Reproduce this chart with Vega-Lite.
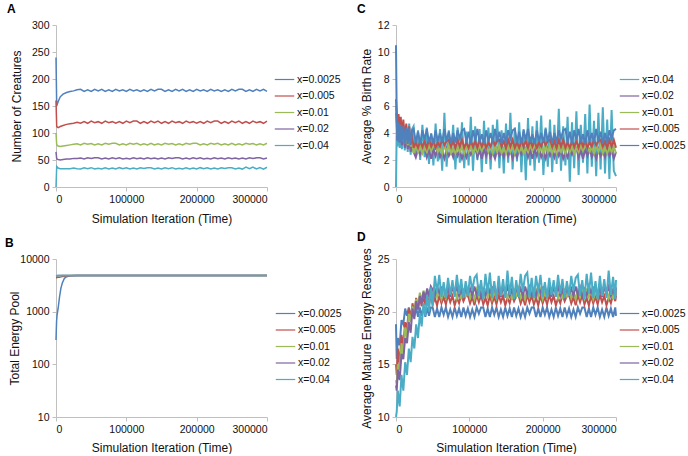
{
"$schema":"https://vega.github.io/schema/vega-lite/v6.json",
"autosize":{"type":"pad"},
"padding":{"left":5,"top":3,"right":0,"bottom":0},
"background":"white",
"config":{
 "font":"Liberation Sans",
 "view":{"stroke":null},
 "axis":{"domainColor":"#c0c0c0","tickColor":"#c0c0c0","grid":false,"labelFontSize":10.5,"labelColor":"#111","titleFontSize":12,"titleFontWeight":"normal","titleColor":"#111","tickSize":4,"labelPadding":3},
 "legend":{"orient":"none","symbolType":"stroke","symbolStrokeWidth":1.5,"symbolSize":380,"labelFontSize":10.5,"labelColor":"#111","labelOffset":2,"rowPadding":0.5},
 "title":{"anchor":"start","frame":"bounds","fontSize":12,"fontWeight":"bold","offset":4,"color":"#000","dx":-3},
 "line":{"strokeWidth":1.2}
},
"datasets":{
"A":[
{"t":0,"a":240,"b":160,"c":100,"d":65,"e":0},
{"t":1000,"a":150,"b":112,"c":78,"d":52,"e":38},
{"t":3000,"a":158,"b":110,"c":76,"d":51,"e":35},
{"t":6000,"a":167,"b":112,"c":75,"d":50,"e":34},
{"t":10000,"a":172,"b":114,"c":76,"d":51,"e":34},
{"t":15000,"a":175,"b":116,"c":77,"d":52,"e":34},
{"t":20000,"a":177,"b":117,"c":78,"d":52,"e":34},
{"t":25000,"a":178,"b":118,"c":79,"d":53,"e":35},
{"t":30000,"a":180,"b":120,"c":80,"d":53,"e":34},
{"t":35000,"a":181,"b":118,"c":78,"d":53.5,"e":33.2},
{"t":40000,"a":177,"b":121,"c":81,"d":52,"e":35.7},
{"t":45000,"a":180,"b":118,"c":79,"d":54,"e":33.9},
{"t":50000,"a":177,"b":122,"c":80.5,"d":52.6,"e":35.8},
{"t":55000,"a":181,"b":119,"c":78,"d":54,"e":33.3},
{"t":60000,"a":178,"b":121,"c":80,"d":54.2,"e":34.9},
{"t":65000,"a":181,"b":118,"c":78,"d":52,"e":33.2},
{"t":70000,"a":177,"b":122,"c":81,"d":53.7,"e":35.5},
{"t":75000,"a":180,"b":119,"c":79,"d":51.8,"e":33.6},
{"t":80000,"a":177,"b":121,"c":81,"d":54.1,"e":35.2},
{"t":85000,"a":181,"b":118,"c":81,"d":52.4,"e":33.3},
{"t":90000,"a":178,"b":121,"c":78,"d":54.2,"e":35.8},
{"t":95000,"a":180,"b":118,"c":80,"d":51.9,"e":33.7},
{"t":100000,"a":177,"b":122,"c":78,"d":53.4,"e":35.4},
{"t":105000,"a":181,"b":119,"c":81,"d":51.8,"e":33.2},
{"t":110000,"a":178,"b":122,"c":79,"d":54,"e":35},
{"t":115000,"a":180,"b":122,"c":81,"d":52.2,"e":33.5},
{"t":120000,"a":177,"b":118,"c":78,"d":53.6,"e":35.7},
{"t":125000,"a":180,"b":121,"c":80,"d":51.9,"e":34.1},
{"t":130000,"a":177,"b":118,"c":78,"d":54.2,"e":35.5},
{"t":135000,"a":181,"b":122,"c":81,"d":52.3,"e":35.8},
{"t":140000,"a":178,"b":119,"c":78,"d":53.8,"e":33.5},
{"t":145000,"a":181,"b":122,"c":80,"d":51.8,"e":35.3},
{"t":150000,"a":181,"b":118,"c":78,"d":53.5,"e":33.2},
{"t":155000,"a":177,"b":121,"c":81,"d":52,"e":35.7},
{"t":160000,"a":180,"b":118,"c":79,"d":54,"e":33.9},
{"t":165000,"a":177,"b":122,"c":80.5,"d":52.6,"e":35.8},
{"t":170000,"a":181,"b":119,"c":78,"d":54,"e":33.3},
{"t":175000,"a":178,"b":121,"c":80,"d":54.2,"e":34.9},
{"t":180000,"a":181,"b":118,"c":78,"d":52,"e":33.2},
{"t":185000,"a":177,"b":122,"c":81,"d":53.7,"e":35.5},
{"t":190000,"a":180,"b":119,"c":79,"d":51.8,"e":33.6},
{"t":195000,"a":177,"b":121,"c":81,"d":54.1,"e":35.2},
{"t":200000,"a":181,"b":118,"c":81,"d":52.4,"e":33.3},
{"t":205000,"a":178,"b":121,"c":78,"d":54.2,"e":35.8},
{"t":210000,"a":180,"b":118,"c":80,"d":51.9,"e":33.7},
{"t":215000,"a":177,"b":122,"c":78,"d":53.4,"e":35.4},
{"t":220000,"a":181,"b":119,"c":81,"d":51.8,"e":33.2},
{"t":225000,"a":178,"b":122,"c":79,"d":54,"e":35},
{"t":230000,"a":180,"b":122,"c":81,"d":52.2,"e":33.5},
{"t":235000,"a":177,"b":118,"c":78,"d":53.6,"e":35.7},
{"t":240000,"a":180,"b":121,"c":80,"d":51.9,"e":34.1},
{"t":245000,"a":177,"b":118,"c":78,"d":54.2,"e":35.5},
{"t":250000,"a":181,"b":122,"c":81,"d":52.3,"e":35.8},
{"t":255000,"a":178,"b":119,"c":78,"d":53.8,"e":33.5},
{"t":260000,"a":181,"b":122,"c":80,"d":51.8,"e":35.3},
{"t":265000,"a":181,"b":118,"c":78,"d":53.5,"e":33.2},
{"t":270000,"a":177,"b":121,"c":81,"d":52,"e":36.7},
{"t":275000,"a":180,"b":118,"c":79,"d":54,"e":33.9},
{"t":280000,"a":177,"b":122,"c":80.5,"d":52.6,"e":36.8},
{"t":285000,"a":181,"b":119,"c":78,"d":54,"e":33.3},
{"t":290000,"a":178,"b":121,"c":80,"d":54.2,"e":35.9},
{"t":295000,"a":181,"b":118,"c":78,"d":52,"e":33.2},
{"t":300000,"a":177,"b":122,"c":81,"d":53.7,"e":36.5}
],
"B":[
{"t":0,"a":290,"b":4400,"c":4700,"d":4800,"e":4850},
{"t":800,"a":650,"b":4420,"c":4750,"d":4820,"e":4850},
{"t":1500,"a":860,"b":4450,"c":4780,"d":4830,"e":4850},
{"t":3000,"a":1150,"b":4480,"c":4800,"d":4840,"e":4850},
{"t":5000,"a":1900,"b":4520,"c":4820,"d":4850,"e":4850},
{"t":7000,"a":2800,"b":4580,"c":4830,"d":4850,"e":4850},
{"t":9000,"a":3500,"b":4650,"c":4840,"d":4850,"e":4850},
{"t":12000,"a":4300,"b":4720,"c":4850,"d":4850,"e":4850},
{"t":15000,"a":4600,"b":4780,"c":4850,"d":4850,"e":4850},
{"t":20000,"a":4800,"b":4820,"c":4850,"d":4850,"e":4850},
{"t":30000,"a":4850,"b":4850,"c":4850,"d":4850,"e":4850},
{"t":100000,"a":4850,"b":4850,"c":4850,"d":4850,"e":4850},
{"t":200000,"a":4850,"b":4850,"c":4850,"d":4850,"e":4850},
{"t":300000,"a":4850,"b":4850,"c":4850,"d":4850,"e":4850}
],
"C":[
{"t":0,"a":10.5,"b":6.5,"c":6,"d":5.5,"e":0},
{"t":1000,"a":5.0,"b":5.5,"c":4.8,"d":4.5,"e":4.6},
{"t":2000,"a":3.4,"b":4.0,"c":3.8,"d":3.5,"e":3.0},
{"t":3500,"a":4.8,"b":5.4,"c":4.6,"d":4.3,"e":4.8},
{"t":5000,"a":3.3,"b":3.9,"c":3.6,"d":3.3,"e":2.9},
{"t":6500,"a":4.6,"b":5.2,"c":4.5,"d":4.1,"e":4.6},
{"t":8000,"a":3.3,"b":3.7,"c":3.4,"d":3.1,"e":2.8},
{"t":10000,"a":4.5,"b":5.0,"c":4.3,"d":3.9,"e":4.6},
{"t":12000,"a":3.2,"b":3.5,"c":3.2,"d":2.9,"e":2.7},
{"t":14000,"a":4.4,"b":4.7,"c":4.2,"d":3.7,"e":4.5},
{"t":16000,"a":3.2,"b":3.4,"c":3.1,"d":2.8,"e":2.6},
{"t":18000,"a":4.4,"b":4.5,"c":4.0,"d":3.5,"e":4.7},
{"t":20000,"a":3.1,"b":3.2,"c":3.0,"d":2.6,"e":2.4},
{"t":22000,"a":4.2,"b":3.9,"c":3.4,"d":3.1,"e":4.3},
{"t":24000,"a":4.3,"b":2.9,"c":2.5,"d":2.6,"e":4.5},
{"t":27000,"a":3.3,"b":3.3,"c":3.1,"d":2.2,"e":2.3},
{"t":30000,"a":4.1,"b":2.9,"c":2.6,"d":2.8,"e":4.2},
{"t":33000,"a":3.2,"b":3.4,"c":3.0,"d":2.4,"e":2.0},
{"t":36000,"a":4.2,"b":3.0,"c":2.5,"d":2.8,"e":4.6},
{"t":39000,"a":3.5,"b":3.4,"c":2.9,"d":2.9,"e":2.2},
{"t":42000,"a":4.3,"b":2.9,"c":2.6,"d":2.2,"e":4.4},
{"t":45000,"a":3.3,"b":3.5,"c":3.1,"d":2.7,"e":1.7},
{"t":48000,"a":3.9,"b":3.0,"c":2.7,"d":2.1,"e":4.0},
{"t":51000,"a":3.2,"b":3.4,"c":3.0,"d":2.8,"e":1.6},
{"t":54000,"a":4.2,"b":2.9,"c":3.1,"d":2.3,"e":4.7},
{"t":57000,"a":3.4,"b":3.3,"c":2.6,"d":2.9,"e":1.9},
{"t":60000,"a":4.0,"b":3.0,"c":3.0,"d":2.2,"e":4.3},
{"t":63000,"a":3.3,"b":3.5,"c":2.5,"d":2.6,"e":1.2},
{"t":66000,"a":4.3,"b":3.1,"c":3.1,"d":2.1,"e":5.5},
{"t":69000,"a":3.4,"b":3.4,"c":2.6,"d":2.8,"e":1.5},
{"t":72000,"a":4.1,"b":3.5,"c":3.1,"d":2.3,"e":4.2},
{"t":75000,"a":3.2,"b":3.0,"c":2.5,"d":2.7,"e":2.4},
{"t":78000,"a":4.0,"b":3.4,"c":2.9,"d":2.2,"e":4.6},
{"t":81000,"a":3.3,"b":2.9,"c":2.5,"d":2.9,"e":1.3},
{"t":84000,"a":4.2,"b":3.5,"c":3.0,"d":2.3,"e":4.4},
{"t":87000,"a":3.6,"b":3.0,"c":2.6,"d":2.7,"e":1.8},
{"t":90000,"a":4.2,"b":3.5,"c":3.0,"d":2.1,"e":4.8},
{"t":93000,"a":4.3,"b":2.9,"c":2.5,"d":2.6,"e":1.4},
{"t":96000,"a":3.3,"b":3.3,"c":3.1,"d":2.2,"e":4.1},
{"t":99000,"a":4.1,"b":2.9,"c":2.6,"d":2.8,"e":1.6},
{"t":102000,"a":3.2,"b":3.4,"c":3.0,"d":2.4,"e":5.2},
{"t":105000,"a":4.2,"b":3.0,"c":2.5,"d":2.8,"e":1.2},
{"t":108000,"a":3.5,"b":3.4,"c":2.9,"d":2.9,"e":4.5},
{"t":111000,"a":4.3,"b":2.9,"c":2.6,"d":2.2,"e":2.0},
{"t":114000,"a":3.3,"b":3.5,"c":3.1,"d":2.7,"e":4.3},
{"t":117000,"a":3.9,"b":3.0,"c":2.7,"d":2.1,"e":1.1},
{"t":120000,"a":3.2,"b":3.4,"c":3.0,"d":2.8,"e":4.9},
{"t":123000,"a":4.2,"b":2.9,"c":3.1,"d":2.3,"e":1.7},
{"t":126000,"a":3.4,"b":3.3,"c":2.6,"d":2.9,"e":4.4},
{"t":129000,"a":4.0,"b":3.0,"c":3.0,"d":2.2,"e":1.3},
{"t":132000,"a":3.3,"b":3.5,"c":2.5,"d":2.6,"e":4.6},
{"t":135000,"a":4.3,"b":3.1,"c":3.1,"d":2.1,"e":2.1},
{"t":138000,"a":3.4,"b":3.4,"c":2.6,"d":2.8,"e":5.0},
{"t":141000,"a":4.1,"b":3.5,"c":3.1,"d":2.3,"e":1.4},
{"t":144000,"a":3.2,"b":3.0,"c":2.5,"d":2.7,"e":4.2},
{"t":147000,"a":4.0,"b":3.4,"c":2.9,"d":2.2,"e":1.0},
{"t":150000,"a":3.3,"b":2.9,"c":2.5,"d":2.9,"e":4.7},
{"t":153000,"a":4.2,"b":3.5,"c":3.0,"d":2.3,"e":1.8},
{"t":156000,"a":3.6,"b":3.0,"c":2.6,"d":2.7,"e":5.5},
{"t":159000,"a":4.2,"b":3.5,"c":3.0,"d":2.1,"e":1.3},
{"t":162000,"a":4.3,"b":2.9,"c":2.5,"d":2.6,"e":4.4},
{"t":165000,"a":3.3,"b":3.3,"c":3.1,"d":2.2,"e":1.9},
{"t":168000,"a":4.1,"b":2.9,"c":2.6,"d":2.8,"e":4.8},
{"t":171000,"a":3.2,"b":3.4,"c":3.0,"d":2.4,"e":1.1},
{"t":174000,"a":4.2,"b":3.0,"c":2.5,"d":2.8,"e":4.3},
{"t":177000,"a":3.5,"b":3.4,"c":2.9,"d":2.9,"e":0.5},
{"t":180000,"a":4.3,"b":2.9,"c":2.6,"d":2.2,"e":5.1},
{"t":183000,"a":3.3,"b":3.5,"c":3.1,"d":2.7,"e":1.6},
{"t":186000,"a":3.9,"b":3.0,"c":2.7,"d":2.1,"e":4.5},
{"t":189000,"a":3.2,"b":3.4,"c":3.0,"d":2.8,"e":1.2},
{"t":192000,"a":4.2,"b":2.9,"c":3.1,"d":2.3,"e":4.9},
{"t":195000,"a":3.4,"b":3.3,"c":2.6,"d":2.9,"e":1.8},
{"t":198000,"a":4.0,"b":3.0,"c":3.0,"d":2.2,"e":5.3},
{"t":201000,"a":3.3,"b":3.5,"c":2.5,"d":2.6,"e":0.9},
{"t":204000,"a":4.3,"b":3.1,"c":3.1,"d":2.1,"e":4.4},
{"t":207000,"a":3.4,"b":3.4,"c":2.6,"d":2.8,"e":1.5},
{"t":210000,"a":4.1,"b":3.5,"c":3.1,"d":2.3,"e":5.0},
{"t":213000,"a":3.2,"b":3.0,"c":2.5,"d":2.7,"e":1.1},
{"t":216000,"a":4.0,"b":3.4,"c":2.9,"d":2.2,"e":4.6},
{"t":219000,"a":3.3,"b":2.9,"c":2.5,"d":2.9,"e":1.7},
{"t":222000,"a":4.2,"b":3.5,"c":3.0,"d":2.3,"e":5.8},
{"t":225000,"a":3.6,"b":3.0,"c":2.6,"d":2.7,"e":1.2},
{"t":228000,"a":4.2,"b":3.5,"c":3.0,"d":2.1,"e":4.5},
{"t":231000,"a":4.3,"b":2.9,"c":2.5,"d":2.6,"e":1.6},
{"t":234000,"a":3.3,"b":3.3,"c":3.1,"d":2.2,"e":5.2},
{"t":237000,"a":4.1,"b":2.9,"c":2.6,"d":2.8,"e":0.4},
{"t":240000,"a":3.2,"b":3.4,"c":3.0,"d":2.4,"e":4.8},
{"t":243000,"a":4.2,"b":3.0,"c":2.5,"d":2.8,"e":1.4},
{"t":246000,"a":3.5,"b":3.4,"c":2.9,"d":2.9,"e":5.6},
{"t":249000,"a":4.3,"b":2.9,"c":2.6,"d":2.2,"e":0.9},
{"t":252000,"a":3.3,"b":3.5,"c":3.1,"d":2.7,"e":4.6},
{"t":255000,"a":3.9,"b":3.0,"c":2.7,"d":2.1,"e":1.8},
{"t":258000,"a":3.2,"b":3.4,"c":3.0,"d":2.8,"e":5.4},
{"t":261000,"a":4.2,"b":2.9,"c":3.1,"d":2.3,"e":1.0},
{"t":264000,"a":3.4,"b":3.3,"c":2.6,"d":2.9,"e":6.1},
{"t":267000,"a":4.0,"b":3.0,"c":3.0,"d":2.2,"e":1.5},
{"t":270000,"a":3.3,"b":3.5,"c":2.5,"d":2.6,"e":4.9},
{"t":273000,"a":4.3,"b":3.1,"c":3.1,"d":2.1,"e":0.8},
{"t":276000,"a":3.4,"b":3.4,"c":2.6,"d":2.8,"e":5.5},
{"t":279000,"a":4.1,"b":3.5,"c":3.1,"d":2.3,"e":1.3},
{"t":282000,"a":3.2,"b":3.0,"c":2.5,"d":2.7,"e":5.9},
{"t":285000,"a":4.0,"b":3.4,"c":2.9,"d":2.2,"e":1.0},
{"t":288000,"a":3.3,"b":2.9,"c":2.5,"d":2.9,"e":5.0},
{"t":291000,"a":4.2,"b":3.5,"c":3.0,"d":2.3,"e":0.6},
{"t":294000,"a":3.6,"b":3.0,"c":2.6,"d":2.7,"e":5.7},
{"t":297000,"a":4.2,"b":3.5,"c":3.0,"d":2.1,"e":1.2},
{"t":300000,"a":4.3,"b":2.9,"c":2.5,"d":2.6,"e":0.8}
],
"D":[
{"t":0,"a":18.8,"b":15.0,"c":13.5,"d":13.0,"e":10.0},
{"t":1000,"a":15.5,"b":14.0,"c":13.0,"d":12.5,"e":10.5},
{"t":2500,"a":17.5,"b":16.5,"c":15.0,"d":14.5,"e":12.5},
{"t":5000,"a":16.8,"b":15.0,"c":14.5,"d":13.5,"e":11.0},
{"t":7500,"a":19.2,"b":17.8,"c":17.0,"d":16.0,"e":14.0},
{"t":10000,"a":18.8,"b":16.8,"c":16.0,"d":15.5,"e":12.5},
{"t":12500,"a":20.3,"b":19.0,"c":18.5,"d":17.5,"e":15.2},
{"t":15000,"a":19.6,"b":18.3,"c":17.5,"d":17.0,"e":14.0},
{"t":17500,"a":20.4,"b":20.3,"c":19.8,"d":19.0,"e":16.5},
{"t":20000,"a":19.5,"b":19.2,"c":19.0,"d":18.0,"e":15.2},
{"t":22500,"a":20.4,"b":20.8,"c":20.5,"d":20.3,"e":17.6},
{"t":25000,"a":19.6,"b":19.8,"c":19.8,"d":19.3,"e":16.5},
{"t":27500,"a":20.4,"b":21.3,"c":21.2,"d":21.0,"e":18.8},
{"t":30000,"a":19.5,"b":20.3,"c":20.5,"d":20.2,"e":17.5},
{"t":32500,"a":20.4,"b":21.4,"c":21.8,"d":21.5,"e":19.8},
{"t":35000,"a":19.6,"b":20.5,"c":21.0,"d":20.8,"e":18.6},
{"t":37500,"a":20.4,"b":21.5,"c":22.0,"d":21.9,"e":20.8},
{"t":40000,"a":19.5,"b":20.6,"c":21.3,"d":21.2,"e":19.6},
{"t":42500,"a":20.4,"b":21.6,"c":22.1,"d":22.2,"e":21.6},
{"t":45000,"a":19.6,"b":20.7,"c":21.4,"d":21.4,"e":20.0},
{"t":47500,"a":20.4,"b":21.5,"c":22.2,"d":22.4,"e":22.3},
{"t":50000,"a":20.4,"b":20.7,"c":21.3,"d":22.1,"e":20.5},
{"t":53000,"a":19.5,"b":21.3,"c":22.2,"d":21.5,"e":23.4},
{"t":56000,"a":20.3,"b":20.6,"c":21.4,"d":22.4,"e":21.8},
{"t":59000,"a":19.5,"b":21.5,"c":22.1,"d":21.8,"e":23.5},
{"t":62000,"a":20.4,"b":20.8,"c":21.2,"d":22.3,"e":21.4},
{"t":65000,"a":19.7,"b":21.4,"c":21.9,"d":22.4,"e":22.8},
{"t":68000,"a":20.4,"b":20.7,"c":21.3,"d":21.5,"e":21.3},
{"t":71000,"a":19.5,"b":21.6,"c":22.2,"d":22.2,"e":23.2},
{"t":74000,"a":20.2,"b":20.9,"c":21.6,"d":21.4,"e":21.6},
{"t":77000,"a":19.5,"b":21.5,"c":22.1,"d":22.4,"e":23.0},
{"t":80000,"a":20.4,"b":20.6,"c":22.2,"d":21.7,"e":21.4},
{"t":83000,"a":19.6,"b":21.3,"c":21.3,"d":22.4,"e":23.5},
{"t":86000,"a":20.3,"b":20.8,"c":22.0,"d":21.5,"e":21.7},
{"t":89000,"a":19.5,"b":21.6,"c":21.2,"d":22.1,"e":23.1},
{"t":92000,"a":20.4,"b":21.0,"c":22.2,"d":21.4,"e":21.3},
{"t":95000,"a":19.6,"b":21.5,"c":21.5,"d":22.3,"e":22.9},
{"t":98000,"a":20.3,"b":21.6,"c":22.2,"d":21.6,"e":21.5},
{"t":101000,"a":19.5,"b":20.8,"c":21.3,"d":22.2,"e":23.4},
{"t":104000,"a":20.2,"b":21.4,"c":21.9,"d":21.5,"e":22.0},
{"t":107000,"a":19.5,"b":20.6,"c":21.2,"d":22.4,"e":23.2},
{"t":110000,"a":20.4,"b":21.6,"c":22.1,"d":21.6,"e":23.5},
{"t":113000,"a":19.8,"b":20.9,"c":21.4,"d":22.3,"e":21.5},
{"t":116000,"a":20.4,"b":21.6,"c":22.0,"d":21.4,"e":23.0},
{"t":119000,"a":20.4,"b":20.7,"c":21.3,"d":22.1,"e":21.2},
{"t":122000,"a":19.5,"b":21.3,"c":22.2,"d":21.5,"e":23.6},
{"t":125000,"a":20.3,"b":20.6,"c":21.4,"d":22.4,"e":21.7},
{"t":128000,"a":19.5,"b":21.5,"c":22.1,"d":21.8,"e":23.7},
{"t":131000,"a":20.4,"b":20.8,"c":21.2,"d":22.3,"e":21.3},
{"t":134000,"a":19.7,"b":21.4,"c":21.9,"d":22.4,"e":22.9},
{"t":137000,"a":20.4,"b":20.7,"c":21.3,"d":21.5,"e":21.2},
{"t":140000,"a":19.5,"b":21.6,"c":22.2,"d":22.2,"e":23.4},
{"t":143000,"a":20.2,"b":20.9,"c":21.6,"d":21.4,"e":21.5},
{"t":146000,"a":19.5,"b":21.5,"c":22.1,"d":22.4,"e":23.1},
{"t":149000,"a":20.4,"b":20.6,"c":22.2,"d":21.7,"e":21.3},
{"t":152000,"a":19.6,"b":21.3,"c":21.3,"d":22.4,"e":23.9},
{"t":155000,"a":20.3,"b":20.8,"c":22.0,"d":21.5,"e":21.6},
{"t":158000,"a":19.5,"b":21.6,"c":21.2,"d":22.1,"e":23.3},
{"t":161000,"a":20.4,"b":21.0,"c":22.2,"d":21.4,"e":21.2},
{"t":164000,"a":19.6,"b":21.5,"c":21.5,"d":22.3,"e":23.0},
{"t":167000,"a":20.3,"b":21.6,"c":22.2,"d":21.6,"e":21.4},
{"t":170000,"a":19.5,"b":20.8,"c":21.3,"d":22.2,"e":23.6},
{"t":173000,"a":20.2,"b":21.4,"c":21.9,"d":21.5,"e":21.9},
{"t":176000,"a":19.5,"b":20.6,"c":21.2,"d":22.4,"e":23.4},
{"t":179000,"a":20.4,"b":21.6,"c":22.1,"d":21.6,"e":23.7},
{"t":182000,"a":19.8,"b":20.9,"c":21.4,"d":22.3,"e":21.4},
{"t":185000,"a":20.4,"b":21.6,"c":22.0,"d":21.4,"e":23.2},
{"t":188000,"a":20.4,"b":20.7,"c":21.3,"d":22.1,"e":21.3},
{"t":191000,"a":19.5,"b":21.3,"c":22.2,"d":21.5,"e":23.4},
{"t":194000,"a":20.3,"b":20.6,"c":21.4,"d":22.4,"e":21.8},
{"t":197000,"a":19.5,"b":21.5,"c":22.1,"d":21.8,"e":23.5},
{"t":200000,"a":20.4,"b":20.8,"c":21.2,"d":22.3,"e":21.4},
{"t":203000,"a":19.7,"b":21.4,"c":21.9,"d":22.4,"e":22.8},
{"t":206000,"a":20.4,"b":20.7,"c":21.3,"d":21.5,"e":21.3},
{"t":209000,"a":19.5,"b":21.6,"c":22.2,"d":22.2,"e":23.2},
{"t":212000,"a":20.2,"b":20.9,"c":21.6,"d":21.4,"e":21.6},
{"t":215000,"a":19.5,"b":21.5,"c":22.1,"d":22.4,"e":23.0},
{"t":218000,"a":20.4,"b":20.6,"c":22.2,"d":21.7,"e":21.4},
{"t":221000,"a":19.6,"b":21.3,"c":21.3,"d":22.4,"e":23.5},
{"t":224000,"a":20.3,"b":20.8,"c":22.0,"d":21.5,"e":21.7},
{"t":227000,"a":19.5,"b":21.6,"c":21.2,"d":22.1,"e":23.1},
{"t":230000,"a":20.4,"b":21.0,"c":22.2,"d":21.4,"e":21.3},
{"t":233000,"a":19.6,"b":21.5,"c":21.5,"d":22.3,"e":22.9},
{"t":236000,"a":20.3,"b":21.6,"c":22.2,"d":21.6,"e":21.5},
{"t":239000,"a":19.5,"b":20.8,"c":21.3,"d":22.2,"e":23.4},
{"t":242000,"a":20.2,"b":21.4,"c":21.9,"d":21.5,"e":22.0},
{"t":245000,"a":19.5,"b":20.6,"c":21.2,"d":22.4,"e":23.2},
{"t":248000,"a":20.4,"b":21.6,"c":22.1,"d":21.6,"e":23.5},
{"t":251000,"a":19.8,"b":20.9,"c":21.4,"d":22.3,"e":21.5},
{"t":254000,"a":20.4,"b":21.6,"c":22.0,"d":21.4,"e":23.0},
{"t":257000,"a":20.4,"b":20.7,"c":21.3,"d":22.1,"e":21.2},
{"t":260000,"a":19.5,"b":21.3,"c":22.2,"d":21.5,"e":23.6},
{"t":263000,"a":20.3,"b":20.6,"c":21.4,"d":22.4,"e":21.7},
{"t":266000,"a":19.5,"b":21.5,"c":22.1,"d":21.8,"e":23.7},
{"t":269000,"a":20.4,"b":20.8,"c":21.2,"d":22.3,"e":21.3},
{"t":272000,"a":19.7,"b":21.4,"c":21.9,"d":22.4,"e":22.9},
{"t":275000,"a":20.4,"b":20.7,"c":21.3,"d":21.5,"e":21.2},
{"t":278000,"a":19.5,"b":21.6,"c":22.2,"d":22.2,"e":23.4},
{"t":281000,"a":20.2,"b":20.9,"c":21.6,"d":21.4,"e":21.5},
{"t":284000,"a":19.5,"b":21.5,"c":22.1,"d":22.4,"e":23.1},
{"t":287000,"a":20.4,"b":20.6,"c":22.2,"d":21.7,"e":21.3},
{"t":290000,"a":19.6,"b":21.3,"c":21.3,"d":22.4,"e":23.9},
{"t":293000,"a":20.3,"b":20.8,"c":22.0,"d":21.5,"e":21.6},
{"t":296000,"a":19.5,"b":21.6,"c":21.2,"d":22.1,"e":23.3},
{"t":299000,"a":20.4,"b":21.0,"c":22.2,"d":21.4,"e":21.2},
{"t":300000,"a":19.6,"b":21.5,"c":21.5,"d":22.3,"e":23.0}
]
},
"columns":2,
"bounds":"flush",
"spacing":{"row":72,"column":129},
"resolve":{"scale":{"color":"independent","x":"independent","y":"independent"},"legend":{"color":"independent"}},
"concat":[
{
 "width":211,"height":162,
 "title":{"text":"A"},
 "data":{"name":"A"},
 "transform":[{"fold":["a","b","c","d","e"],"as":["k","v"]}],
 "mark":{"type":"line","strokeWidth":1.5},
 "encoding":{
  "x":{"field":"t","type":"quantitative","scale":{"domain":[0,300000],"nice":false},"axis":{"values":[0,100000,200000,300000],"format":"d","title":"Simulation Iteration (Time)","titlePadding":9}},
  "y":{"field":"v","type":"quantitative","scale":{"domain":[0,300],"nice":false},"axis":{"values":[0,50,100,150,200,250,300],"title":"Number of  Creatures","titleX":-33}},
  "color":{"field":"k","type":"nominal","scale":{"domain":["a","b","c","d","e"],"range":["#4F81BD","#C0504D","#9BBB59","#8064A2","#4BACC6"]},
   "legend":{"title":null,"legendX":218,"legendY":44,"labelExpr":"datum.label=='a'?'x=0.0025':datum.label=='b'?'x=0.005':datum.label=='c'?'x=0.01':datum.label=='d'?'x=0.02':'x=0.04'"}}
 }
},
{
 "width":220,"height":162,
 "title":{"text":"C"},
 "data":{"name":"C"},
 "transform":[{"fold":["e","d","c","b","a"],"as":["k","v"]}],
 "mark":{"type":"line","strokeWidth":2},
 "encoding":{
  "x":{"field":"t","type":"quantitative","scale":{"domain":[0,300000],"nice":false},"axis":{"values":[0,100000,200000,300000],"format":"d","title":"Simulation Iteration (Time)","titlePadding":9}},
  "y":{"field":"v","type":"quantitative","scale":{"domain":[0,12],"nice":false},"axis":{"values":[0,2,4,6,8,10,12],"title":"Average % Birth Rate","titleX":-23}},
  "color":{"field":"k","type":"nominal","scale":{"domain":["e","d","c","b","a"],"range":["#4BACC6","#8064A2","#9BBB59","#C0504D","#4F81BD"]},
   "legend":{"title":null,"legendX":223,"legendY":44,"labelExpr":"datum.label=='a'?'x=0.0025':datum.label=='b'?'x=0.005':datum.label=='c'?'x=0.01':datum.label=='d'?'x=0.02':'x=0.04'"}}
 }
},
{
 "width":211,"height":158,
 "title":{"text":"B"},
 "data":{"name":"B"},
 "transform":[{"fold":["a","b","c","d","e"],"as":["k","v"]}],
 "mark":{"type":"line","strokeWidth":1.5},
 "encoding":{
  "x":{"field":"t","type":"quantitative","scale":{"domain":[0,300000],"nice":false},"axis":{"values":[0,100000,200000,300000],"format":"d","title":"Simulation Iteration (Time)","titlePadding":8}},
  "y":{"field":"v","type":"quantitative","scale":{"type":"log","domain":[10,10000],"nice":false},"axis":{"values":[10,100,1000,10000],"format":"d","title":"Total Energy Pool","titleX":-35}},
  "color":{"field":"k","type":"nominal","scale":{"domain":["a","b","c","d","e"],"range":["#4F81BD","#C0504D","#9BBB59","#8064A2","#4BACC6"]},
   "legend":{"title":null,"legendX":219,"legendY":44,"labelExpr":"datum.label=='a'?'x=0.0025':datum.label=='b'?'x=0.005':datum.label=='c'?'x=0.01':datum.label=='d'?'x=0.02':'x=0.04'"}}
 }
},
{
 "width":220,"height":158,
 "title":{"text":"D"},
 "data":{"name":"D"},
 "transform":[{"fold":["a","b","c","d","e"],"as":["k","v"]}],
 "mark":{"type":"line","strokeWidth":2},
 "encoding":{
  "x":{"field":"t","type":"quantitative","scale":{"domain":[0,300000],"nice":false},"axis":{"values":[0,100000,200000,300000],"format":"d","title":"Simulation Iteration (Time)","titlePadding":8}},
  "y":{"field":"v","type":"quantitative","scale":{"domain":[10,25],"nice":false},"axis":{"values":[10,15,20,25],"title":"Average Mature Energy Reserves","titleX":-23}},
  "color":{"field":"k","type":"nominal","scale":{"domain":["a","b","c","d","e"],"range":["#4F81BD","#C0504D","#9BBB59","#8064A2","#4BACC6"]},
   "legend":{"title":null,"legendX":223,"legendY":44,"labelExpr":"datum.label=='a'?'x=0.0025':datum.label=='b'?'x=0.005':datum.label=='c'?'x=0.01':datum.label=='d'?'x=0.02':'x=0.04'"}}
 }
}
]
}
